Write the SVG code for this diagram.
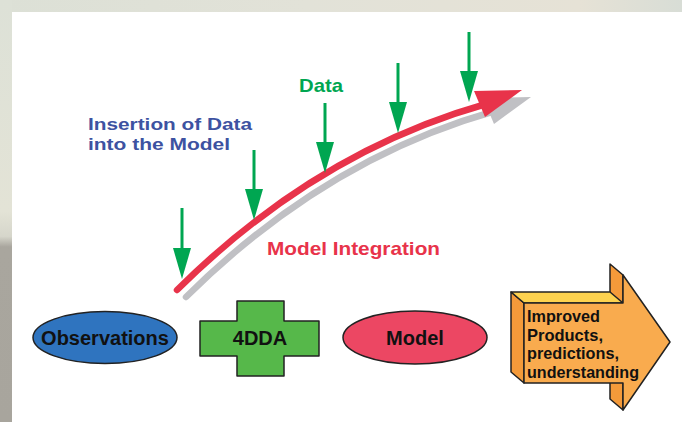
<svg xmlns="http://www.w3.org/2000/svg" width="682" height="422" viewBox="0 0 682 422">
  <defs>
    <linearGradient id="edgeLeft" x1="0" y1="0" x2="0" y2="1">
      <stop offset="0" stop-color="#dde1d7"/>
      <stop offset="0.5" stop-color="#e3e3d6"/>
      <stop offset="0.56" stop-color="#d6d6cb"/>
      <stop offset="0.585" stop-color="#a9a69e"/>
      <stop offset="1" stop-color="#a8a59d"/>
    </linearGradient>
    <linearGradient id="edgeTop" x1="0" y1="0" x2="1" y2="0">
      <stop offset="0" stop-color="#dce0d6"/>
      <stop offset="0.45" stop-color="#e2e2d8"/>
      <stop offset="0.85" stop-color="#e6e2d6"/>
      <stop offset="1" stop-color="#d8ddd6"/>
    </linearGradient>
    <marker id="dataHead" markerUnits="userSpaceOnUse" markerWidth="31" markerHeight="18" viewBox="0 0 31 18" refX="1" refY="9" orient="auto">
      <polygon points="0,0 31,9 0,18" fill="#00a651"/>
    </marker>
    <style>
      .lbl { font-family: "Liberation Sans", Arial, sans-serif; font-weight: bold; }
      .node-text { font-family: "Liberation Sans", Arial, sans-serif; font-weight: bold; font-size: 20px; fill: #111; text-anchor: middle; }
      .data { stroke: #00a651; stroke-width: 3; fill: none; marker-end: url(#dataHead); }
      .outline { stroke: #222; stroke-width: 1.5; stroke-linejoin: round; }
      .box-text { font-family: "Liberation Sans Narrow", "Liberation Sans", Arial, sans-serif; font-weight: bold; font-size: 17px; fill: #111; }
    </style>
  </defs>

  <!-- backdrop and white panel -->
  <rect x="0" y="0" width="682" height="422" fill="url(#edgeTop)"/>
  <rect x="0" y="0" width="12" height="422" fill="url(#edgeLeft)"/>
  <rect x="12" y="12" width="670" height="410" fill="#ffffff"/>

  <!-- labels -->
  <g id="labels">
    <text class="lbl" x="88" y="130" font-size="17" fill="#3d52a1" textLength="164" lengthAdjust="spacingAndGlyphs">Insertion of Data</text>
    <text class="lbl" x="88" y="150" font-size="17" fill="#3d52a1" textLength="142" lengthAdjust="spacingAndGlyphs">into the Model</text>
    <text class="lbl" x="299" y="92" font-size="19" fill="#00a651" textLength="44" lengthAdjust="spacingAndGlyphs">Data</text>
    <text class="lbl" x="267" y="255" font-size="19" fill="#e8334a" textLength="173" lengthAdjust="spacingAndGlyphs">Model Integration</text>
  </g>

  <!-- connectors: integration path and data insertion arrows -->
  <g id="connectors">
    <g id="integration-shadow" transform="translate(9,7)">
      <path d="M177,290 Q316,152 486,104" fill="none" stroke="#c0c0c4" stroke-width="6.5" stroke-linecap="round"/>
      <polygon points="474,91 522,90 485,117" fill="#c0c0c4"/>
    </g>
    <g id="integration">
      <path d="M177,290 Q316,152 486,104" fill="none" stroke="#e8334a" stroke-width="6.5" stroke-linecap="round"/>
      <polygon points="474,91 522,90 485,117" fill="#e8334a"/>
    </g>
    <line class="data" x1="182" y1="208" x2="182" y2="249"/>
    <line class="data" x1="254" y1="150" x2="254" y2="190"/>
    <line class="data" x1="325" y1="103" x2="325" y2="143"/>
    <line class="data" x1="398" y1="63" x2="398" y2="103"/>
    <line class="data" x1="469" y1="32" x2="469" y2="72"/>
  </g>

  <!-- nodes -->
  <g id="observations">
    <ellipse class="outline" cx="105" cy="337.5" rx="72" ry="26" fill="#2f74bf"/>
    <text class="node-text" x="105" y="344.5">Observations</text>
  </g>

  <g id="fourdda">
    <polygon class="outline" fill="#56b84a" points="237,301 284,301 284,321 319,321 319,356 284,356 284,376 237,376 237,356 200,356 200,321 237,321"/>
    <text class="node-text" x="260" y="344.5">4DDA</text>
  </g>

  <g id="model">
    <ellipse class="outline" cx="415" cy="337.5" rx="72" ry="26.5" fill="#ec4763"/>
    <text class="node-text" x="415" y="344.5">Model</text>
  </g>

  <g id="products">
    <!-- extruded faces -->
    <polygon class="outline" fill="#f49a3a" points="610,264 623,275 623,410 610,399"/>
    <polygon class="outline" fill="#f49a3a" points="511,292 524,303 524,383 511,372"/>
    <polygon class="outline" fill="#fdd24f" points="511,292 610,292 623,303 524,303"/>
    <!-- front face -->
    <polygon class="outline" fill="#f9ab4e" points="524,303 623,303 623,275 670,342 623,410 623,383 524,383"/>
    <text class="box-text" x="527" y="322" textLength="73" lengthAdjust="spacingAndGlyphs">Improved</text>
    <text class="box-text" x="527" y="341" textLength="76" lengthAdjust="spacingAndGlyphs">Products,</text>
    <text class="box-text" x="527" y="359" textLength="92" lengthAdjust="spacingAndGlyphs">predictions,</text>
    <text class="box-text" x="527" y="378" textLength="112" lengthAdjust="spacingAndGlyphs">understanding</text>
  </g>
</svg>
